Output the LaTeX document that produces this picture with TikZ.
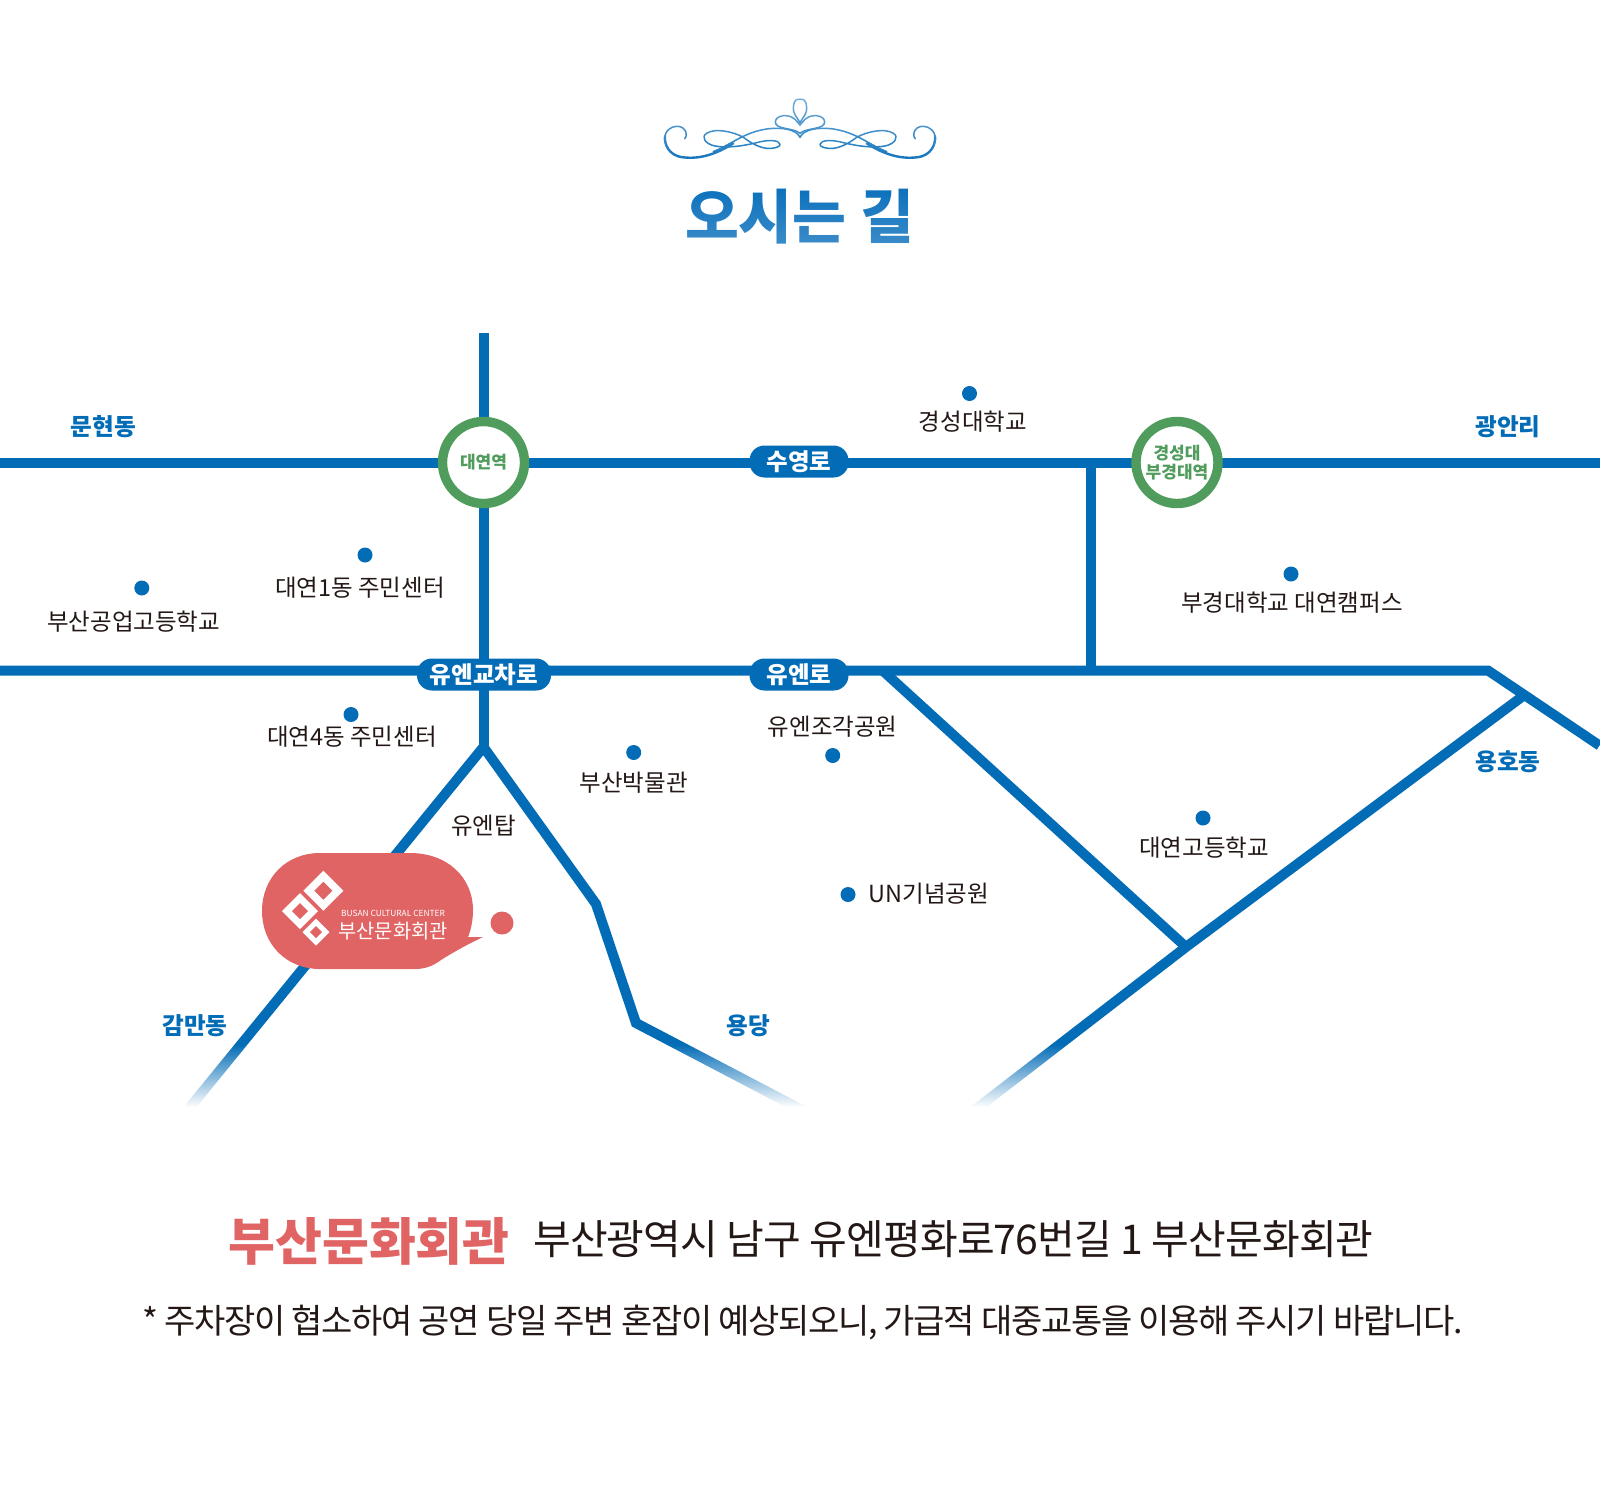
\documentclass[tikz,border=0pt]{standalone}
\usepackage{fontspec}
\setmainfont{Noto Sans CJK KR}
\usetikzlibrary{fadings}
\definecolor{roadblue}{HTML}{036CB6}
\definecolor{ringgreen}{HTML}{509C5C}
\definecolor{salmon}{HTML}{E16465}
\definecolor{inkblack}{HTML}{231815}
\definecolor{titleblue}{HTML}{0B70BC}
\tikzfading[name=tailfade, top color=transparent!100, bottom color=transparent!0]
\tikzfading[name=titlefade, top color=transparent!100, bottom color=transparent!80]
\tikzfading[name=ornfade, top color=transparent!55, bottom color=transparent!100]
\tikzset{
  road/.style={draw=roadblue, line width=10pt, line join=miter},
  poi/.style={circle, fill=roadblue, minimum size=15pt, inner sep=0pt},
  place/.style={text=inkblack, font=\fontsize{23.5}{25}\selectfont, inner sep=0pt},
  area/.style={text=roadblue, font=\fontsize{23.6}{26}\selectfont\bfseries, inner sep=0pt},
  pill/.style={fill=roadblue, rounded corners=15pt, text=white, font=\fontsize{23.5}{26}\selectfont\bfseries, minimum height=32pt, inner sep=0pt},
  station/.style={circle, draw=ringgreen, line width=9.4pt, fill=white, minimum size=82pt, inner sep=0pt, text=ringgreen, align=center, font=\fontsize{17}{18.5}\selectfont\bfseries},
  orn/.style={draw=titleblue, line width=1.5pt, line cap=round},
  ornthick/.style={draw=titleblue, line width=2.4pt, line cap=round}
}
\newcommand{\halforn}{%
  \draw[orn] (0,172) .. controls (-10,150) and (-50,140) .. (-100,147) .. controls (-170,158) and (-200,190) .. (-260,215);
  \draw[ornthick] (-200,190) .. controls (-250,222) and (-300,238) .. (-350,232) .. controls (-395,228) and (-408,190) .. (-405,168);
  \draw[orn] (-405,168) .. controls (-402,145) and (-370,130) .. (-350,145) .. controls (-338,155) and (-340,172) .. (-346,176);
  \draw[orn] (-60,193) .. controls (-62,180) and (-95,178) .. (-130,188) .. controls (-170,198) and (-220,205) .. (-255,198) .. controls (-285,192) and (-298,170) .. (-280,160) .. controls (-255,143) and (-200,155) .. (-170,172) .. controls (-140,195) and (-110,208) .. (-85,205) .. controls (-70,203) and (-60,200) .. (-60,193);
  \draw[orn] (0,128) .. controls (-10,110) and (-22,100) .. (-20,82) .. controls (-17,52) and (-5,58) .. (0,58);
  \draw[orn] (0,160) .. controls (-20,142) and (-75,150) .. (-74,125) .. controls (-72,105) and (-35,100) .. (-15,118) .. controls (-8,125) and (-4,130) .. (0,135);
}
\begin{document}
\begin{tikzpicture}[x=1pt,y=-1pt]
\useasboundingbox (0,0) rectangle (1600,1484);
\fill[white] (0,0) rectangle (1600,1484);

% ornament
\begin{scope}[shift={(800,80)},x=0.3333pt,y=-0.3333pt]
  \halforn
  \begin{scope}[xscale=-1]\halforn\end{scope}
\end{scope}
\fill[white, path fading=ornfade] (640,96) rectangle (960,165);

% title
\node[text=titleblue, inner sep=0pt, font=\fontsize{58.5}{66}\selectfont\bfseries] (title) at (799.5,216.5) {오시는 길};
\fill[white, path fading=titlefade] (680,186) rectangle (920,246);

% road coordinates
\coordinate (wA) at (0,462.5);
\coordinate (eA) at (1600,462.5);
\coordinate (wB) at (0,670.5);
\coordinate (bendB) at (1488,670.5);
\coordinate (eB) at (1599.5,745.5);
\coordinate (northV) at (483.5,333);
\coordinate (fork) at (483.5,747);
\coordinate (sw) at (186,1112);
\coordinate (bendC) at (596,904);
\coordinate (bendD) at (636,1023);
\coordinate (se) at (806,1112);
\coordinate (diagTop) at (882,670);
\coordinate (meet) at (1186,947);
\coordinate (ne) at (1523,696);
\coordinate (south) at (972,1112);
\coordinate (linkTop) at (1090.5,462);
\coordinate (linkBot) at (1090.5,670);

% roads
\draw[road] (wA) -- (eA);
\draw[road] (wB) -- (bendB) -- (eB);
\draw[road] (northV) -- (fork);
\draw[road] (linkTop) -- (linkBot);
\draw[road] (fork) -- (sw);
\draw[road] (fork) -- (bendC) -- (bendD) -- (se);
\draw[road] (diagTop) -- (meet);
\draw[road] (ne) -- (meet) -- (south);
\fill[white, path fading=tailfade] (0,1044) rectangle (1600,1107);
\fill[white] (0,1107) rectangle (1600,1125);

% stations
\node[station] (daeyeon) at (483.5,462.5) {대연역};
\node[station] (kyungsung) at (1177,462.5) {경성대\\부경대역};

% road name pills
\node[pill, minimum width=99pt] (suyeong) at (799,461.5) {수영로};
\node[pill, minimum width=134pt] (uncross) at (484,674.5) {유엔교차로};
\node[pill, minimum width=99pt] (unro) at (799,674.5) {유엔로};

% area labels
\node[area] (munhyeon) at (103.5,427) {문현동};
\node[area] (gwangan) at (1508,427) {광안리};
\node[area] (yongho) at (1508,761.5) {용호동};
\node[area] (gamman) at (195,1026) {감만동};
\node[area] (yongdang) at (748.5,1026) {용당};

% points of interest
\node[poi] (d1) at (969.5,393.5) {};
\node[place] (t1) at (973,421.5) {경성대학교};
\node[poi] (d2) at (365,555) {};
\node[place] (t2) at (360,588) {대연1동 주민센터};
\node[poi] (d3) at (141.8,588) {};
\node[place] (t3) at (133.7,621.5) {부산공업고등학교};
\node[poi] (d4) at (1291,574) {};
\node[place] (t4) at (1292,603) {부경대학교 대연캠퍼스};
\node[poi] (d5) at (351,714.5) {};
\node[place] (t5) at (352,736.5) {대연4동 주민센터};
\node[poi] (d6) at (832.7,755.5) {};
\node[place] (t6) at (832.7,727) {유엔조각공원};
\node[poi] (d7) at (633.7,752.5) {};
\node[place] (t7) at (633.7,782.5) {부산박물관};
\node[place] (t8) at (483.7,826) {유엔탑};
\node[poi] (d9) at (848,894.5) {};
\node[place, anchor=west] (t9) at (868.5,894) {UN기념공원};
\node[poi] (d10) at (1203,818) {};
\node[place] (t10) at (1204,848) {대연고등학교};

% bubble
\fill[salmon] (320,853) -- (410,853) .. controls (448,853) and (473,878) .. (473,910) .. controls (473,920) and (471,930) .. (468,937) -- (483,937) .. controls (468,944) and (452,953) .. (441,960) .. controls (433,966) and (425,969) .. (415,969) -- (320,969) .. controls (286,969) and (262,944) .. (262,911) .. controls (262,878) and (286,853) .. (320,853) -- cycle;
\node[circle, fill=salmon, minimum size=23pt, inner sep=0pt] (venue) at (502,923) {};
% logo
\fill[white] (323.3,870.7) -- (343.3,890.7) -- (323.3,910.7) -- (303.3,890.7) -- cycle;
\fill[salmon] (323.3,881.7) -- (332.3,890.7) -- (323.3,899.7) -- (314.3,890.7) -- cycle;
\fill[white] (300,893) -- (318,911) -- (300,929) -- (282,911) -- cycle;
\fill[salmon] (300,903) -- (308,911) -- (300,919) -- (292,911) -- cycle;
\fill[white] (316,918.5) -- (329.5,932) -- (316,945.5) -- (302.5,932) -- cycle;
\fill[salmon] (316,926) -- (322,932) -- (316,938) -- (310,932) -- cycle;
\node[text=white, inner sep=0pt, font=\fontsize{8.4}{10}\selectfont] (en) at (393,913.5) {BUSAN CULTURAL CENTER};
\node[text=white, inner sep=0pt, font=\fontsize{19.8}{21}\selectfont] (kr) at (393,931) {부산문화회관};

% bottom
\node[text=salmon, inner sep=0pt, font=\fontsize{51}{56}\selectfont\bfseries] (name) at (369,1241) {부산문화회관};
\node[text=inkblack, inner sep=0pt, anchor=west, font=\fontsize{41}{46}\selectfont] (addr) at (533,1239.5) {\addfontfeatures{LetterSpace=-2.1}부산광역시 남구 유엔평화로76번길 1 부산문화회관};
\node[text=inkblack, inner sep=0pt, anchor=west, font=\fontsize{34}{40}\selectfont] (note) at (142,1322.5) {\addfontfeatures{LetterSpace=-4}* 주차장이 협소하여 공연 당일 주변 혼잡이 예상되오니, 가급적 대중교통을 이용해 주시기 바랍니다.};
\end{tikzpicture}
\end{document}
